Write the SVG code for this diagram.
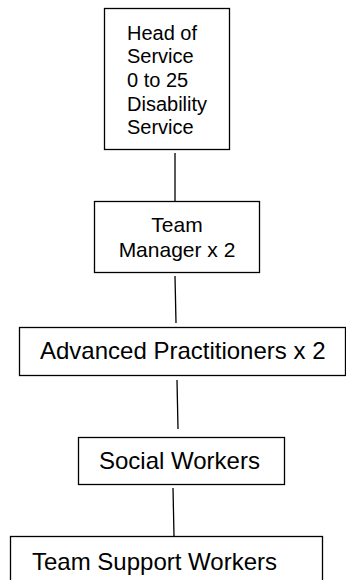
<svg xmlns="http://www.w3.org/2000/svg" width="346" height="580" viewBox="0 0 346 580">
<style>
.box{fill:#fff;stroke:#000;stroke-width:1.3}
.t{font-family:"Liberation Sans",Arial,sans-serif;fill:#000}
.c{stroke:#000;stroke-width:1.3;fill:none}
</style>
<rect width="346" height="580" fill="#fff"/>
<g id="connectors">
<line class="c" x1="175" y1="153" x2="175" y2="201"/>
<line class="c" x1="175" y1="276" x2="176" y2="323"/>
<line class="c" x1="177" y1="380" x2="178" y2="429"/>
<line class="c" x1="173" y1="488" x2="174" y2="536"/>
</g>
<g id="head">
<rect class="box" x="104.5" y="8.5" width="125" height="141"/>
<text class="t" font-size="20"><tspan x="127" y="40">Head of</tspan><tspan x="127" y="63">Service</tspan><tspan x="127" y="87">0 to 25</tspan><tspan x="127" y="111">Disability</tspan><tspan x="127" y="134">Service</tspan></text>
</g>
<g id="manager">
<rect class="box" x="94.5" y="201.5" width="165" height="71"/>
<text class="t" font-size="21" text-anchor="middle"><tspan x="177" y="232">Team</tspan><tspan x="177" y="257">Manager x 2</tspan></text>
</g>
<g id="advanced">
<rect class="box" x="19.5" y="327.5" width="326" height="48"/>
<text class="t" font-size="24" x="40" y="359">Advanced Practitioners x 2</text>
</g>
<g id="social">
<rect class="box" x="78.5" y="437.5" width="206" height="47"/>
<text class="t" font-size="24" x="99" y="469">Social Workers</text>
</g>
<g id="support">
<rect class="box" x="10.5" y="536.5" width="312" height="60"/>
<text class="t" font-size="24" x="32" y="570">Team Support Workers</text>
</g>
</svg>
